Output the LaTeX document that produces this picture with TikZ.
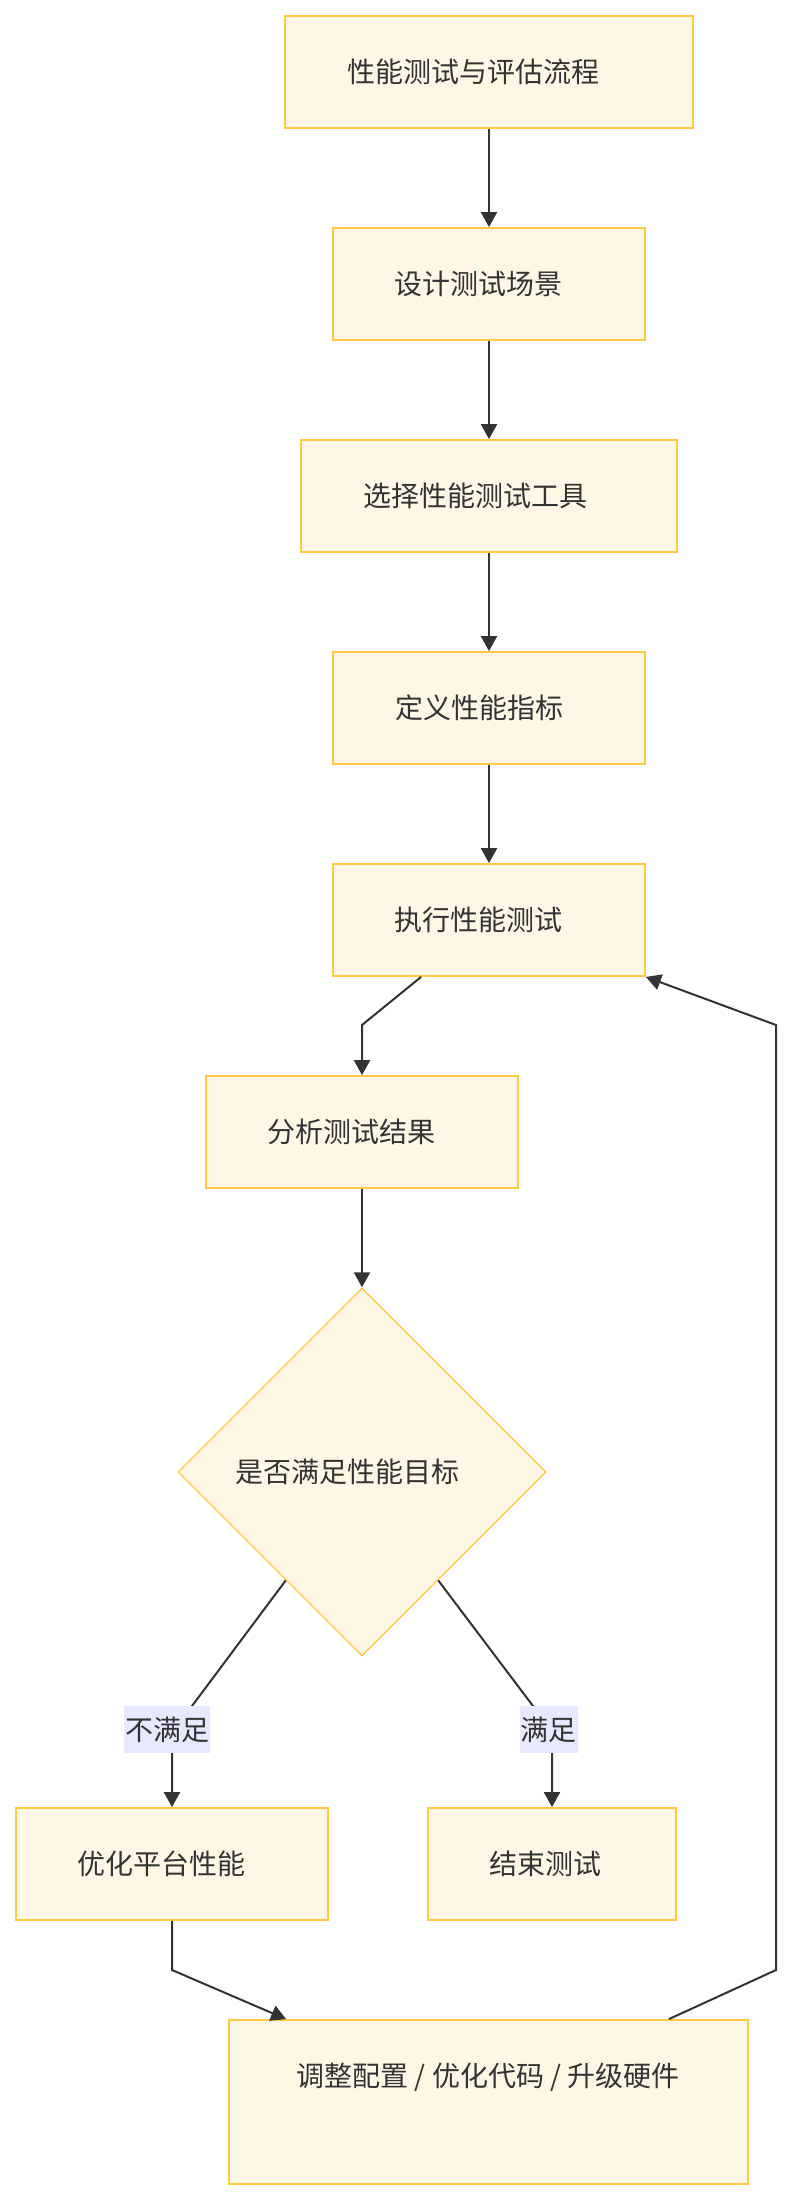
\documentclass[tikz,border=0pt]{standalone}
\usepackage{fontspec}
\newfontfamily\cjk{Noto Sans CJK SC}
\usetikzlibrary{arrows.meta,shapes.geometric,calc}
\definecolor{boxfill}{HTML}{FFF7E5}
\definecolor{boxdraw}{HTML}{FFC940}
\definecolor{lblfill}{HTML}{E8E8FF}
\definecolor{ink}{HTML}{333333}
\begin{document}
\begin{tikzpicture}[x=1pt,y=-1pt,
  box/.style={draw=boxdraw, fill=boxfill, line width=1.8pt, inner sep=0pt, minimum height=112pt},
  dia/.style={diamond, draw=boxdraw, fill=boxfill, line width=1.3pt, inner sep=0pt, minimum width=368pt, minimum height=368pt},
  txt/.style={font=\cjk\fontsize{28}{34}\selectfont, text=ink, inner sep=0pt},
  lbl/.style={fill=lblfill, font=\cjk\fontsize{28}{34}\selectfont, text=ink, inner xsep=1pt, inner ysep=0pt, minimum height=47pt},
  conn/.style={draw=ink, line width=2pt},
  arr/.style={conn, -{Triangle[length=15pt,width=16pt]}}]
\fill[white] (0,0) rectangle (792,2200);
\useasboundingbox (0,0) rectangle (792,2200);

% boxes
\node[box, minimum width=408pt] (n1) at (489,72) {};
\node[box, minimum width=312pt] (n2) at (489,284) {};
\node[box, minimum width=376pt] (n3) at (489,496) {};
\node[box, minimum width=312pt] (n4) at (489,708) {};
\node[box, minimum width=312pt] (n5) at (489,920) {};
\node[box, minimum width=312pt] (n6) at (362,1132) {};
\node[dia] (d) at (362,1472) {};
\node[box, minimum width=312pt] (n8) at (172,1864) {};
\node[box, minimum width=248pt] (n9) at (552,1864) {};
\node[box, minimum width=519pt, minimum height=164pt] (n10) at (488.5,2102) {};

% texts
\node[txt] (t1) at (473,72) {性能测试与评估流程};
\node[txt] (t2) at (478,284) {设计测试场景};
\node[txt] (t3) at (475,496) {选择性能测试工具};
\node[txt] (t4) at (479,708) {定义性能指标};
\node[txt] (t5) at (478,920) {执行性能测试};
\node[txt] (t6) at (351,1132) {分析测试结果};
\node[txt] (td) at (347,1472) {是否满足性能目标};
\node[txt] (t8) at (161,1864) {优化平台性能};
\node[txt] (t9) at (545,1864) {结束测试};
\node[txt] (t10) at (488,2077) {调整配置 / 优化代码 / 升级硬件};

% connectors
\draw[arr] (n1) -- (n2);
\draw[arr] (n2) -- (n3);
\draw[arr] (n3) -- (n4);
\draw[arr] (n4) -- (n5);
\draw[arr] ([xshift=89pt]n5.south west) -- (362,1025) -- (n6.north);
\draw[arr] (n6) -- (d);
\draw[arr] ($(d.west)!0.587!(d.south)$) -- (192,1706) -- (172,1740) -- (n8.north);
\draw[arr] ($(d.east)!0.587!(d.south)$) -- (533,1706) -- (552,1740) -- (n9.north);
\draw[arr] (n8.south) -- (172,1970) -- ([xshift=58pt]n10.north west);
\draw[arr] ([xshift=-80pt]n10.north east) -- (776,1970) -- (776,1025) -- (n5.south east);

% edge labels
\node[lbl, minimum width=86pt] (l1) at (167,1729.5) {不满足};
\node[lbl, minimum width=57pt] (l2) at (548.5,1729.5) {满足};
\end{tikzpicture}
\end{document}
